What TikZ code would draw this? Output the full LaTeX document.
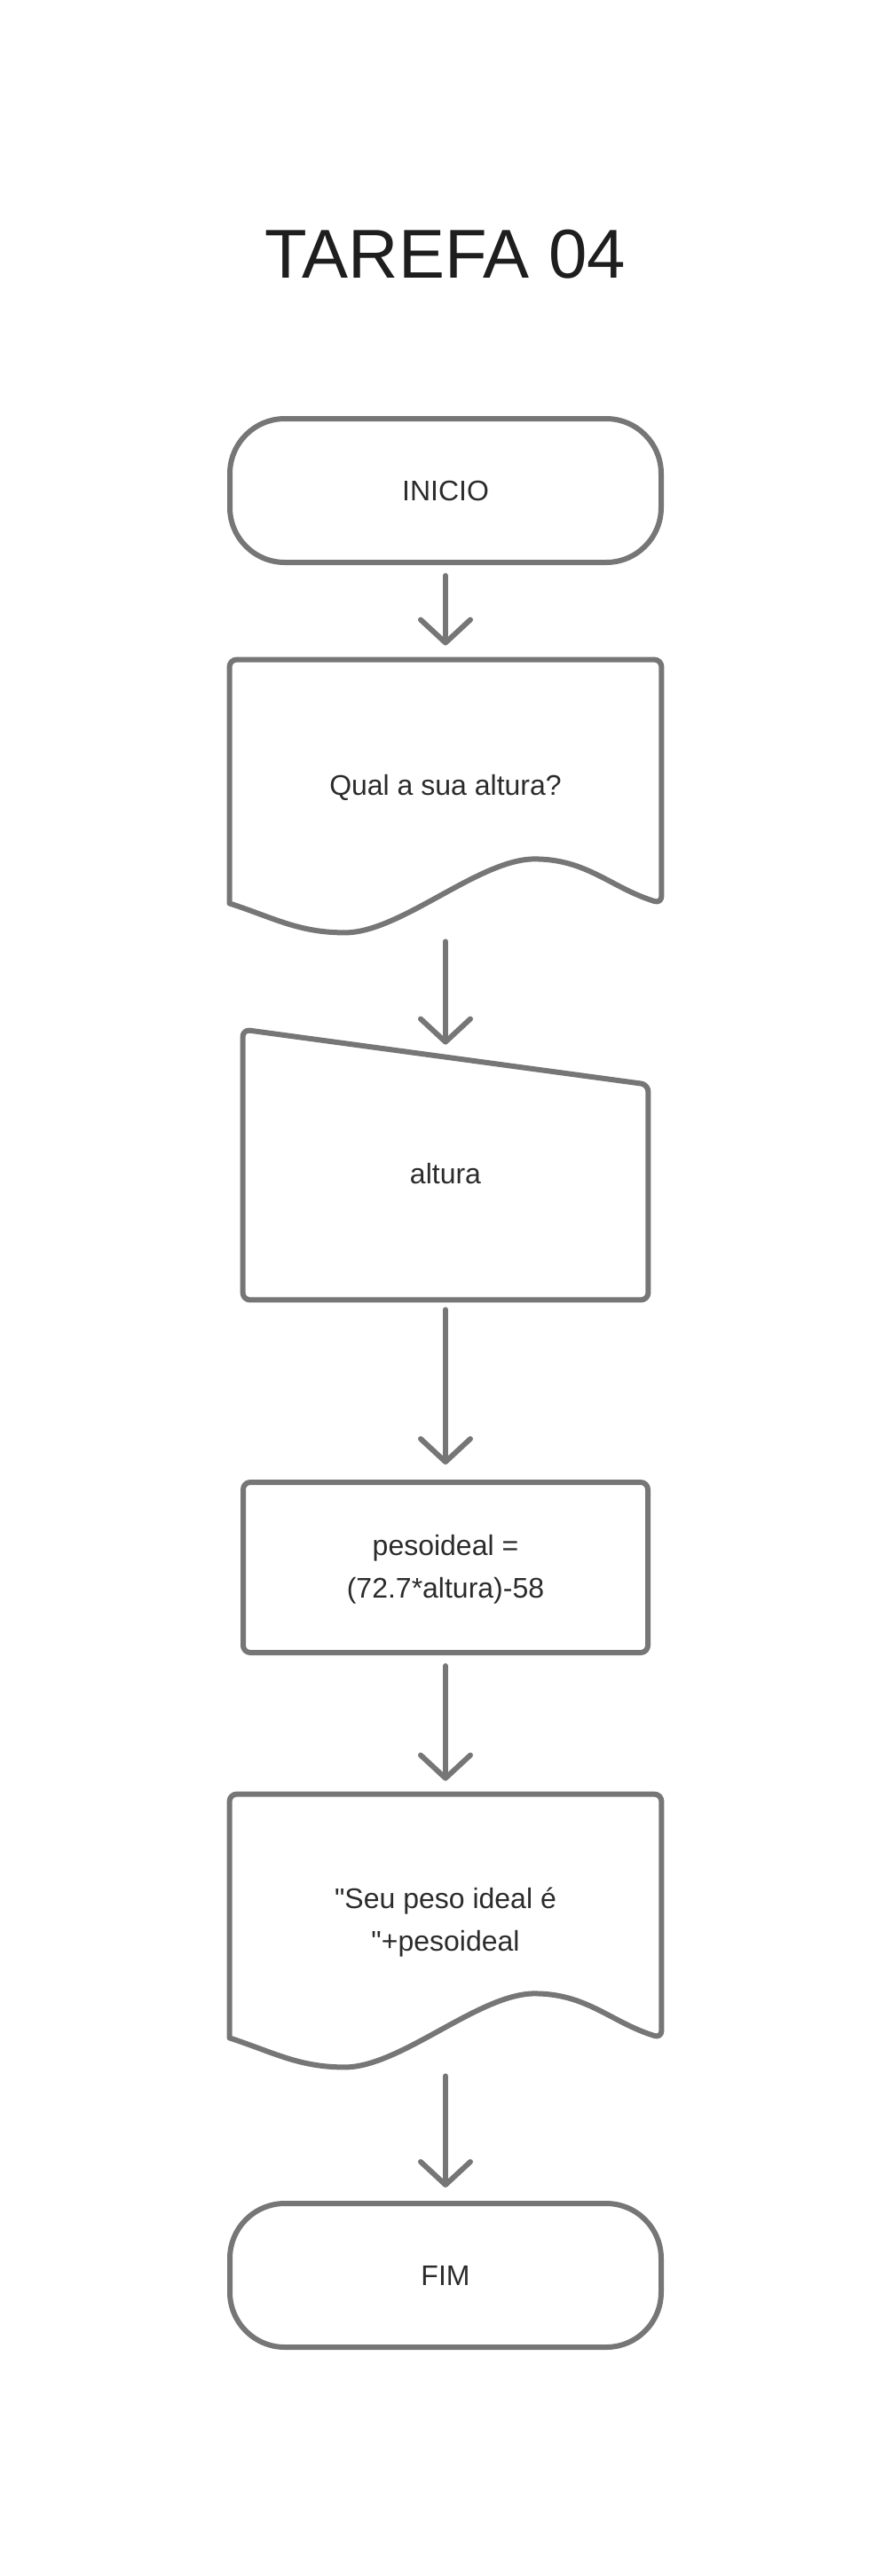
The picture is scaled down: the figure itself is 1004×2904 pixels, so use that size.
\documentclass[tikz,border=0pt]{standalone}
\usepackage{fontspec}
\setmainfont{Liberation Sans}[Ligatures=TeXOff]
\usetikzlibrary{arrows.meta,calc}
\definecolor{linha}{HTML}{767676}
\definecolor{texto}{HTML}{2B2B2B}
\definecolor{titulo}{HTML}{1E1E1E}

\begin{document}
\begin{tikzpicture}
  [x=0.5pt,y=-0.5pt,
   every node/.style={text=texto,font=\fontsize{16}{24}\selectfont,align=center},
   contorno/.style={draw=linha,line width=3pt,line join=round,line cap=round},
   terminal/.style={contorno,rounded corners=31pt,minimum width=243pt,minimum height=81pt},
   caixa/.style={text height=19pt,minimum width=243pt,minimum height=137pt},
   entrada/.style={minimum width=228pt,minimum height=142pt},
   processo/.style={contorno,text height=37.5pt,rounded corners=4pt,minimum width=228pt,minimum height=96pt},
   seta/.style={draw=linha,line width=3pt,line cap=round,shorten >=8pt,
     -{Straight Barb[length=13pt,width=28pt,line cap=round,line join=round]}}]
  \useasboundingbox (0,0) rectangle (1004,2904);

  \node[font=\fontsize{39}{46}\selectfont,text=titulo] (tarefa) at (502,287) {TAREFA 04};

  \node[terminal] (inicio)   at (502,553)  {INICIO};
  \node[caixa]    (pergunta) at (502,881)  {Qual a sua altura?};
  \node[entrada]  (altura)   at (502,1323) {altura};
  \node[processo] (calculo)  at (502,1767) {pesoideal =\\(72.7*altura)-58};
  \node[caixa,text height=43pt] (resposta) at (502,2160) {"Seu peso ideal é\\"+pesoideal};
  \node[terminal] (fim)      at (502,2565) {FIM};

  \draw[contorno,rounded corners=4pt] (pergunta.south west) -- (pergunta.north west)
    -- (pergunta.north east) -- (pergunta.south east) [sharp corners]
    to[out=163,in=0] ($(pergunta.south east)+(-143,-50)$)
    to[out=180,in=0,looseness=0.7] ($(pergunta.south west)+(130,33)$)
    to[out=180,in=-18] (pergunta.south west);
  \draw[contorno,rounded corners=4pt] ($(altura.north west)+(0,-20)$)
    -- ($(altura.north east)+(0,42)$) -- (altura.south east) -- (altura.south west) -- cycle;
  \draw[contorno,rounded corners=4pt] (resposta.south west) -- (resposta.north west)
    -- (resposta.north east) -- (resposta.south east) [sharp corners]
    to[out=163,in=0] ($(resposta.south east)+(-143,-50)$)
    to[out=180,in=0,looseness=0.7] ($(resposta.south west)+(130,33)$)
    to[out=180,in=-18] (resposta.south west);

  \draw[seta,shorten <=6pt] (inicio) -- (pergunta);
  \draw[seta,shorten <=21.5pt,shorten >=1.5pt] (pergunta) -- (altura);
  \draw[seta,shorten <=5.5pt,shorten >=8.5pt] (altura) -- (calculo);
  \draw[seta,shorten <=6pt,shorten >=7.5pt] (calculo) -- (resposta);
  \draw[seta,shorten <=21.5pt,shorten >=7.5pt] (resposta) -- (fim);

\end{tikzpicture}
\end{document}
